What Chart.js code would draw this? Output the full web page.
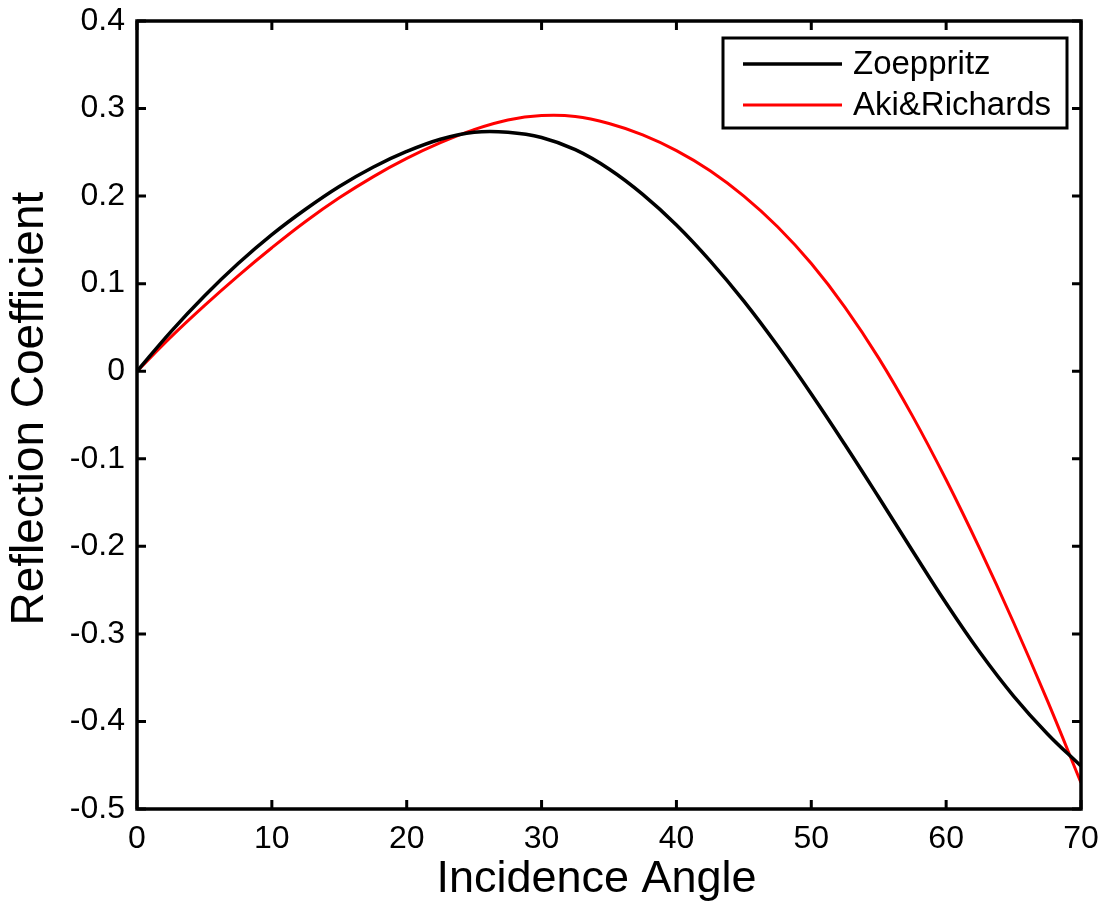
<!DOCTYPE html>
<html>
<head>
<meta charset="utf-8">
<script src="https://cdn.jsdelivr.net/npm/chart.js@4"></script>
<style>
  html, body { margin: 0; padding: 0; background: #fff; }
  #wrap { width: 1105px; height: 911px; position: relative; }
</style>
</head>
<body>
<div id="wrap"><canvas id="avo"></canvas></div>
<script>
const angles = [
  0, 2.5, 5, 7.5, 10, 12.5, 15, 17.5, 20, 22.5, 25, 27.5, 30, 32.5, 35,
  37.5, 40, 42.5, 45, 47.5, 50, 52.5, 55, 57.5, 60, 62.5, 65, 67.5, 70,
];

const zoeppritz = [
  0, 0.045, 0.086, 0.123, 0.156, 0.185, 0.211, 0.233, 0.251, 0.265, 0.273,
  0.273, 0.267, 0.253, 0.231, 0.202, 0.167, 0.126, 0.08, 0.029, -0.026,
  -0.084, -0.144, -0.205, -0.265, -0.321, -0.371, -0.414, -0.451,
];

const akiRichards = [
  0, 0.039, 0.075, 0.109, 0.141, 0.171, 0.198, 0.222, 0.243, 0.261, 0.276,
  0.287, 0.292, 0.291, 0.283, 0.27, 0.252, 0.229, 0.2, 0.165, 0.123,
  0.073, 0.015, -0.051, -0.124, -0.203, -0.287, -0.376, -0.47,
];

const xTicks = [0, 10, 20, 30, 40, 50, 60, 70];
const yTicks = [0.4, 0.3, 0.2, 0.1, 0, -0.1, -0.2, -0.3, -0.4, -0.5];

const fontFamily = "'Liberation Sans', Arial, sans-serif";

function points(ys) {
  return angles.map((a, i) => ({ x: a, y: ys[i] }));
}

// frame, inward ticks on all four sides, boxed legend
const framePlugin = {
  id: "frame",
  afterDraw(chart) {
    const ctx = chart.ctx;
    const a = chart.chartArea;
    const xs = chart.scales.x;
    const ys = chart.scales.y;
    const len = 9;
    ctx.save();
    ctx.strokeStyle = "#000";
    ctx.lineWidth = 3;
    ctx.beginPath();
    xTicks.forEach((v) => {
      const px = xs.getPixelForValue(v);
      ctx.moveTo(px, a.bottom);
      ctx.lineTo(px, a.bottom - len);
      ctx.moveTo(px, a.top);
      ctx.lineTo(px, a.top + len);
    });
    yTicks.forEach((v) => {
      const py = ys.getPixelForValue(v);
      ctx.moveTo(a.left, py);
      ctx.lineTo(a.left + len, py);
      ctx.moveTo(a.right, py);
      ctx.lineTo(a.right - len, py);
    });
    ctx.stroke();
    ctx.lineWidth = 3.5;
    ctx.strokeRect(a.left, a.top, a.right - a.left, a.bottom - a.top);

    // legend
    const bx = 723, by = 38, bw = 344, bh = 90;
    ctx.fillStyle = "#fff";
    ctx.fillRect(bx, by, bw, bh);
    ctx.lineWidth = 3;
    ctx.strokeRect(bx, by, bw, bh);
    ctx.font = "33px " + fontFamily;
    ctx.textBaseline = "middle";
    ctx.textAlign = "left";
    chart.data.datasets.forEach((ds, i) => {
      const ly = 64 + i * 41;
      ctx.strokeStyle = ds.borderColor;
      ctx.lineWidth = ds.borderWidth;
      ctx.beginPath();
      ctx.moveTo(743, ly);
      ctx.lineTo(842, ly);
      ctx.stroke();
      ctx.fillStyle = "#000";
      ctx.fillText(ds.label, 853, ly + 1);
    });
    ctx.restore();
  },
};

const config = {
  type: "line",
  data: {
    datasets: [
      {
        label: "Zoeppritz",
        data: points(zoeppritz),
        borderColor: "#000000",
        borderWidth: 3.5,
        pointRadius: 0,
        tension: 0.4,
      },
      {
        label: "Aki&Richards",
        data: points(akiRichards),
        borderColor: "#ff0000",
        borderWidth: 3,
        pointRadius: 0,
        tension: 0.4,
      },
    ],
  },
  options: {
    responsive: true,
    maintainAspectRatio: false,
    animation: false,
    layout: {
      padding: { top: 21, right: 24, left: 0, bottom: 0 },
    },
    plugins: {
      legend: { display: false },
      tooltip: { enabled: false },
    },
    scales: {
      x: {
        type: "linear",
        min: 0,
        max: 70,
        afterFit(scale) {
          scale.height = 102;
          scale.paddingLeft = 0;
          scale.paddingRight = 0;
        },
        afterBuildTicks(scale) {
          scale.ticks = xTicks.map((v) => ({ value: v }));
        },
        grid: { display: false, drawTicks: false },
        border: { display: false },
        ticks: {
          color: "#000",
          padding: 11,
          maxRotation: 0,
          font: { family: fontFamily, size: 32 },
        },
        title: {
          display: true,
          text: "Incidence Angle  ",
          color: "#000",
          padding: { top: 0, bottom: 4 },
          font: { family: fontFamily, size: 45 },
        },
      },
      y: {
        type: "linear",
        min: -0.5,
        max: 0.4,
        afterFit(scale) {
          scale.width = 137;
          scale.paddingTop = 0;
          scale.paddingBottom = 0;
        },
        afterBuildTicks(scale) {
          scale.ticks = yTicks.map((v) => ({ value: v }));
        },
        grid: { display: false, drawTicks: false },
        border: { display: false },
        ticks: {
          color: "#000",
          padding: 12,
          font: { family: fontFamily, size: 32 },
          callback: (v) => String(Number(v.toFixed(1))),
        },
        title: {
          display: true,
          text: " Reflection Coefficient",
          color: "#000",
          padding: { top: 3, bottom: 0 },
          font: { family: fontFamily, size: 46 },
        },
      },
    },
  },
  plugins: [framePlugin],
};

new Chart(document.getElementById("avo"), config);
</script>
</body>
</html>
